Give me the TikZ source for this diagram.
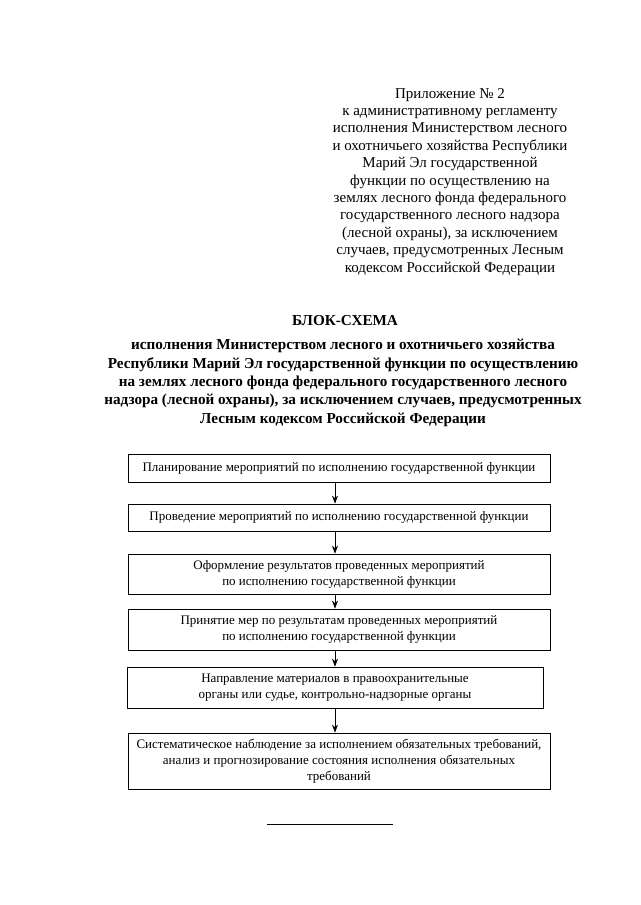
\documentclass[tikz,border=0pt]{standalone}
\usepackage{fontspec}
\setmainfont{Liberation Serif}
\usetikzlibrary{arrows.meta}
\begin{document}
\begin{tikzpicture}[x=1pt,y=-1pt,
  hdr/.style={align=center,font=\fontsize{15}{17.4}\selectfont,inner sep=0pt},
  ttl/.style={align=center,font=\fontsize{15.2}{18.4}\selectfont\bfseries,inner sep=0pt},
  stepbox/.style={draw,line width=0.8pt,align=center,inner sep=0pt,
    font=\fontsize{13}{16}\selectfont},
  arr/.style={-{Stealth[length=8pt,width=6pt]},line width=0.7pt}]
\useasboundingbox (0,0) rectangle (640,905);
\fill[white] (0,0) rectangle (640,905);
\node[hdr,anchor=north] (app) at (450,88) {Приложение № 2\\к административному регламенту\\исполнения Министерством лесного\\и охотничьего хозяйства Республики\\Марий Эл государственной\\функции по осуществлению на\\землях лесного фонда федерального\\государственного лесного надзора\\(лесной охраны), за исключением\\случаев, предусмотренных Лесным\\кодексом Российской Федерации};
\node[ttl] (title) at (345,321) {БЛОК-СХЕМА};
\node[ttl,anchor=north] (sub) at (343,339) {исполнения Министерством лесного и охотничьего хозяйства\\Республики Марий Эл государственной функции по осуществлению\\на землях лесного фонда федерального государственного лесного\\надзора (лесной охраны), за исключением случаев, предусмотренных\\Лесным кодексом Российской Федерации};
\node[stepbox,minimum width=422pt,minimum height=28pt] (b1) at (339,468) {Планирование мероприятий по исполнению государственной функции};
\node[stepbox,minimum width=422pt,minimum height=27pt] (b2) at (339,517.5) {Проведение мероприятий по исполнению государственной функции};
\node[stepbox,minimum width=422pt,minimum height=40pt] (b3) at (339,574) {Оформление результатов проведенных мероприятий\\по исполнению государственной функции};
\node[stepbox,minimum width=422pt,minimum height=41pt] (b4) at (339,629.5) {Принятие мер по результатам проведенных мероприятий\\по исполнению государственной функции};
\node[stepbox,minimum width=416pt,minimum height=41pt] (b5) at (335,687.5) {Направление материалов в правоохранительные\\органы или судье, контрольно-надзорные органы};
\node[stepbox,minimum width=422pt,minimum height=56pt] (b6) at (339,761) {Систематическое наблюдение за исполнением обязательных требований,\\анализ и прогнозирование состояния исполнения обязательных\\требований};
\draw[arr] (b1.south -| 335,0) -- (b2.north -| 335,0);
\draw[arr] (b2.south -| 335,0) -- (b3.north -| 335,0);
\draw[arr] (b3.south -| 335,0) -- (b4.north -| 335,0);
\draw[arr] (b4.south -| 335,0) -- (b5.north -| 335,0);
\draw[arr] (b5.south -| 335,0) -- (b6.north -| 335,0);
\coordinate (l1) at (267,824);
\coordinate (l2) at (393,824);
\draw[line width=0.8pt] (l1) -- (l2);
\end{tikzpicture}
\end{document}
